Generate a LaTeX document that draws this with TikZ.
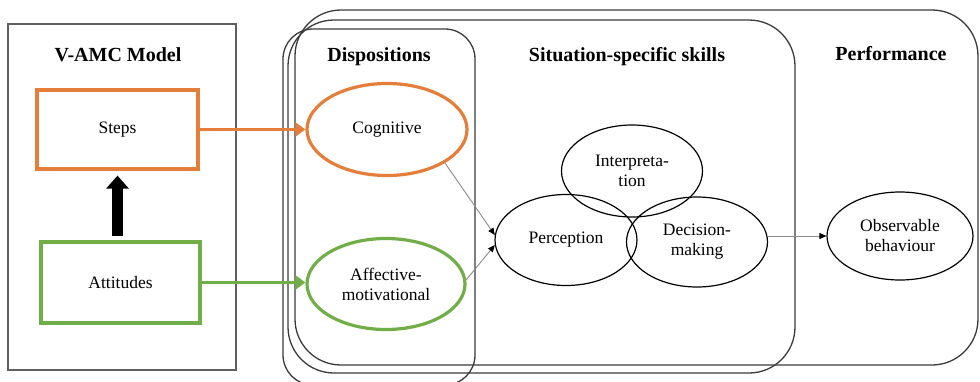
\documentclass[tikz,border=0pt]{standalone}
\usepackage{fontspec}
\setmainfont{Liberation Serif}
\usetikzlibrary{shapes.geometric,arrows.meta}

\definecolor{stepsorange}{HTML}{E47E3A}
\definecolor{attgreen}{HTML}{72AE48}
\definecolor{framegray}{HTML}{5F5F5F}
\definecolor{boxline}{HTML}{3A3A3A}
\definecolor{linkgray}{HTML}{8A8A8A}

\tikzset{
  body/.style={font=\fontsize{17.5}{20}\selectfont, align=center},
  heading/.style={font=\fontsize{20}{24}\selectfont\bfseries, anchor=base},
  container/.style={draw=boxline, line width=1.3pt, inner sep=0pt},
  modelbox/.style={draw, line width=3.2pt, inner sep=0pt, body},
  disp/.style={ellipse, draw, line width=3.2pt, inner sep=0pt, body},
  skill/.style={ellipse, draw=black, line width=1.2pt, inner sep=0pt, body},
  feed/.style={line width=3.2pt, -{Triangle[width=14pt,length=10pt]}},
  link/.style={draw=linkgray, line width=0.9pt, -{Triangle[width=6pt,length=7pt,color=black]}},
}

\begin{document}
\begin{tikzpicture}[x=1pt,y=-1pt]
\useasboundingbox (0,0) rectangle (980,381);
\clip (0,0) rectangle (980,381);

% left panel with the model
\node[draw=framegray, line width=1.6pt, minimum width=228pt, minimum height=346pt, inner sep=0pt]
  (vamc) at (122,197) {};
\node[heading] (vamclabel) at (118,61) {V-AMC Model};
\node[modelbox, draw=stepsorange, minimum width=161pt, minimum height=79pt] (steps) at (117.5,129.5) {Steps};
\node[modelbox, draw=attgreen, minimum width=159pt, minimum height=81pt] (att) at (120.5,282.5) {Attitudes};
\draw[line width=11pt, -{Triangle[width=22pt,length=13pt]}, shorten <=4pt, shorten >=5pt]
  (steps.south |- att.north) -- (steps.south);

% nested competence frames
\node[container, rounded corners=46pt, minimum width=683pt, minimum height=355pt] (perf) at (636.5,187.5) {};
\node[container, rounded corners=46pt, minimum width=507pt, minimum height=353pt] (sit) at (541.5,196.5) {};
\node[container, rounded corners=30pt, minimum width=192pt, minimum height=356pt] (dispbox) at (379,207) {};

\node[heading] (displabel) at (379,61) {Dispositions};
\node[heading] (sitlabel) at (627,61) {Situation-specific skills};
\node[heading] (perflabel) at (891,60) {Performance};

% dispositions
\node[disp, draw=stepsorange, minimum width=160pt, minimum height=92pt] (cog) at (387,129.5) {Cognitive};
\node[disp, draw=attgreen, minimum width=158pt, minimum height=91pt] (aff) at (386,284) {Affective-\\motivational};

% situation-specific skills
\node[skill, minimum width=142pt, minimum height=91pt] (perc) at (566,240) {Perception};
\node[skill, minimum width=141pt, minimum height=92pt] (interp) at (632,171) {Interpreta-\\tion};
\node[skill, minimum width=141pt, minimum height=90pt] (dec) at (697,242) {Decision-\\making};

% performance
\node[skill, minimum width=146pt, minimum height=88pt] (obs) at (900,236) {Observable\\behaviour};

% connectors
\draw[feed, stepsorange] (steps.east) -- (steps.east -| cog.west);
\draw[feed, attgreen] (att.east) -- (att.east -| aff.west);
\draw[link] (cog.-30) -- (perc.176);
\draw[link] (aff.3) -- (perc.184);
\draw[link] (dec.east |- obs.west) -- (obs.west);
\end{tikzpicture}
\end{document}
